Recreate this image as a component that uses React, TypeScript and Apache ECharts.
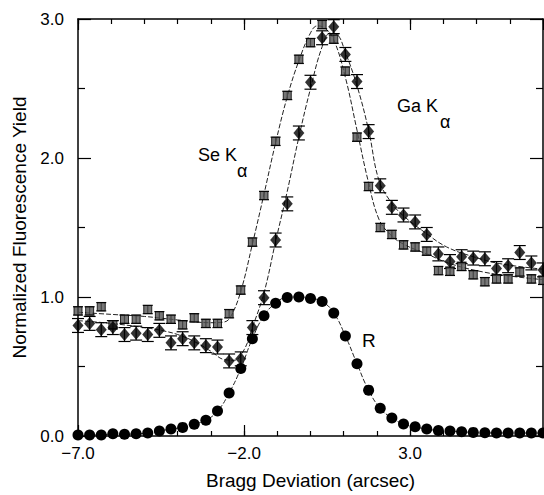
import React, { useEffect, useRef } from "react";
import * as echarts from "echarts";

// Bragg deviation positions of the measured points (arcsec)
const xVals = [
  -7.0, -6.65, -6.3, -5.95, -5.6, -5.25, -4.9, -4.55, -4.2, -3.85, -3.5, -3.15, -2.8, -2.45,
  -2.1, -1.75, -1.4, -1.05, -0.7, -0.35, 0.0, 0.35, 0.7, 1.05, 1.4, 1.75, 2.1, 2.45, 2.8,
  3.15, 3.5, 3.85, 4.2, 4.55, 4.9, 5.25, 5.6, 5.95, 6.3, 6.65, 7.0,
];

// Se K-alpha fluorescence yield
const seVals = [
  0.9, 0.9, 0.93, 0.8, 0.84, 0.84, 0.91, 0.865, 0.84, 0.8, 0.85, 0.81, 0.81, 0.88, 1.05,
  1.395, 1.73, 2.12, 2.45, 2.71, 2.83, 2.96, 2.855, 2.625, 2.15, 1.795, 1.5, 1.45, 1.375,
  1.36, 1.33, 1.19, 1.185, 1.22, 1.16, 1.11, 1.13, 1.13, 1.18, 1.13, 1.12,
];

// Ga K-alpha fluorescence yield
const gaVals = [
  0.795, 0.81, 0.765, 0.78, 0.73, 0.74, 0.73, 0.76, 0.67, 0.7, 0.67, 0.65, 0.64, 0.54, 0.555,
  0.78, 0.995, 1.41, 1.67, 2.18, 2.545, 2.865, 2.945, 2.745, 2.55, 2.19, 1.8, 1.645, 1.59,
  1.54, 1.45, 1.31, 1.255, 1.29, 1.28, 1.275, 1.205, 1.225, 1.32, 1.245, 1.195,
];

// Reflectivity R
const rVals = [
  0.007, 0.007, 0.007, 0.016, 0.012, 0.016, 0.021, 0.036, 0.05, 0.062, 0.085, 0.114, 0.18,
  0.31, 0.485, 0.7, 0.865, 0.955, 0.997, 1.0, 0.99, 0.967, 0.884, 0.72, 0.52, 0.33, 0.2, 0.13,
  0.087, 0.066, 0.05, 0.04, 0.036, 0.03, 0.026, 0.023, 0.022, 0.022, 0.022, 0.021, 0.022,
];

const seErr = 0.03;
const gaErr = 0.05;

// Fitted curves (theory)
const seFitX = [
  -7, -6, -5, -4, -3, -2.6, -2.4, -2.1, -1.75, -1.4, -1.05, -0.7, -0.35, 0, 0.2, 0.4, 0.7,
  1.05, 1.4, 1.74, 2.06, 2.4, 2.8, 3.5, 4.2, 5.2, 6.2, 7,
];
const seFitY = [
  0.89, 0.875, 0.86, 0.835, 0.815, 0.82, 0.86, 1.04, 1.38, 1.74, 2.11, 2.44, 2.7, 2.9, 2.95,
  2.94, 2.85, 2.58, 2.2, 1.83, 1.56, 1.45, 1.38, 1.31, 1.24, 1.18, 1.145, 1.125,
];
const gaFitX = [
  -7, -6, -5, -4.5, -4, -3.5, -3, -2.6, -2.3, -2.0, -1.75, -1.4, -1.05, -0.7, -0.35, 0, 0.35,
  0.6, 0.8, 1.05, 1.4, 1.75, 2.06, 2.43, 2.77, 3.47, 4.1, 4.9, 5.7, 7,
];
const gaFitY = [
  0.83, 0.81, 0.78, 0.76, 0.73, 0.68, 0.61, 0.55, 0.545, 0.62, 0.78, 1.03, 1.4, 1.76, 2.15,
  2.5, 2.8, 2.9, 2.89, 2.76, 2.52, 2.2, 1.84, 1.68, 1.59, 1.46, 1.36, 1.29, 1.24, 1.2,
];

const FONT = '"Liberation Sans", Arial, Helvetica, sans-serif';

function fmt(v: number) {
  return v < 0 ? "\u2212" + Math.abs(v).toFixed(1) : v.toFixed(1);
}

function errorBarSeries(vals: number[], err: number, capHalf: number) {
  return {
    type: "custom",
    xAxisIndex: 0,
    yAxisIndex: 0,
    encode: { x: 0, y: 1 },
    z: 3,
    silent: true,
    data: xVals.map((x, i) => [x, vals[i], err]),
    renderItem: (_params: any, api: any) => {
      const x = api.value(0);
      const y = api.value(1);
      const e = api.value(2);
      const hi = api.coord([x, y + e]);
      const lo = api.coord([x, y - e]);
      const style = { stroke: "#000", lineWidth: 1.2 };
      return {
        type: "group",
        children: [
          { type: "line", shape: { x1: hi[0], y1: hi[1], x2: lo[0], y2: lo[1] }, style },
          { type: "line", shape: { x1: hi[0] - capHalf, y1: hi[1], x2: hi[0] + capHalf, y2: hi[1] }, style },
          { type: "line", shape: { x1: lo[0] - capHalf, y1: lo[1], x2: lo[0] + capHalf, y2: lo[1] }, style },
        ],
      };
    },
  };
}

export default function App() {
  const ref = useRef<HTMLDivElement>(null);

  useEffect(() => {
    if (!ref.current) return;
    const chart = echarts.init(ref.current, undefined, { renderer: "svg" });
    const axisLine = { show: true, onZero: false, lineStyle: { color: "#000", width: 1.5 } };
    const noLine = { show: false, onZero: false };
    const tickStyle = { color: "#000", width: 1.2 };
    const fitLine = { color: "#222", width: 1, type: [5, 2] as any };

    chart.setOption({
      animation: false,
      backgroundColor: "#fff",
      grid: { left: 78, top: 19, width: 465, height: 422 },
      xAxis: [
        {
          type: "value",
          position: "bottom",
          min: -7,
          max: 7,
          interval: 5,
          axisLine,
          axisTick: { show: true, inside: true, length: 11, lineStyle: tickStyle },
          axisLabel: {
            formatter: fmt,
            showMaxLabel: false,
            fontSize: 17,
            color: "#000",
            fontFamily: FONT,
            margin: 9,
          },
          splitLine: { show: false },
          name: "Bragg Deviation (arcsec)",
          nameLocation: "middle",
          nameGap: 35,
          nameTextStyle: { fontSize: 19, color: "#000", fontFamily: FONT },
        },
        {
          type: "value",
          position: "bottom",
          min: -7,
          max: 7,
          interval: 1,
          axisLine: noLine,
          axisTick: { show: true, inside: true, length: 5, lineStyle: tickStyle },
          axisLabel: { show: false },
          splitLine: { show: false },
        },
        {
          type: "value",
          position: "top",
          min: -7,
          max: 7,
          interval: 5,
          axisLine,
          axisTick: { show: true, inside: true, length: 11, lineStyle: tickStyle },
          axisLabel: { show: false },
          splitLine: { show: false },
        },
        {
          type: "value",
          position: "top",
          min: -7,
          max: 7,
          interval: 1,
          axisLine: noLine,
          axisTick: { show: true, inside: true, length: 5, lineStyle: tickStyle },
          axisLabel: { show: false },
          splitLine: { show: false },
        },
      ],
      yAxis: [
        {
          type: "value",
          position: "left",
          min: 0,
          max: 3,
          interval: 1,
          axisLine,
          axisTick: { show: true, inside: true, length: 13, lineStyle: tickStyle },
          minorTick: { show: true, splitNumber: 2, length: 7, lineStyle: tickStyle },
          axisLabel: { formatter: fmt, fontSize: 17, color: "#000", fontFamily: FONT, margin: 14 },
          splitLine: { show: false },
          name: "Normalized Fluorescence Yield",
          nameLocation: "middle",
          nameGap: 49,
          nameTextStyle: { fontSize: 19, color: "#000", fontFamily: FONT },
        },
        {
          type: "value",
          position: "right",
          min: 0,
          max: 3,
          interval: 1,
          axisLine,
          axisTick: { show: true, inside: true, length: 13, lineStyle: tickStyle },
          minorTick: { show: true, splitNumber: 2, length: 7, lineStyle: tickStyle },
          axisLabel: { show: false },
          splitLine: { show: false },
        },
      ],
      graphic: [
        { type: "text", x: 198, y: 155, style: { text: "Se K", fontSize: 18, fontFamily: FONT, fill: "#000", verticalAlign: "middle" } },
        { type: "text", x: 237, y: 171, style: { text: "\u03b1", fontSize: 18, fontFamily: FONT, fill: "#000", verticalAlign: "middle" } },
        { type: "text", x: 397, y: 106, style: { text: "Ga K", fontSize: 18, fontFamily: FONT, fill: "#000", verticalAlign: "middle" } },
        { type: "text", x: 440, y: 122, style: { text: "\u03b1", fontSize: 18, fontFamily: FONT, fill: "#000", verticalAlign: "middle" } },
        { type: "text", x: 362, y: 340, style: { text: "R", fontSize: 19, fontFamily: FONT, fill: "#000", verticalAlign: "middle" } },
      ],
      series: [
        {
          name: "Se fit",
          type: "line",
          xAxisIndex: 0,
          yAxisIndex: 0,
          data: seFitX.map((x, i) => [x, seFitY[i]]),
          smooth: 0.4,
          showSymbol: false,
          lineStyle: fitLine,
          z: 1,
        },
        {
          name: "Ga fit",
          type: "line",
          xAxisIndex: 0,
          yAxisIndex: 0,
          data: gaFitX.map((x, i) => [x, gaFitY[i]]),
          smooth: 0.4,
          showSymbol: false,
          lineStyle: fitLine,
          z: 1,
        },
        {
          name: "R",
          type: "line",
          xAxisIndex: 0,
          yAxisIndex: 0,
          data: xVals.map((x, i) => [x, rVals[i]]),
          smooth: true,
          symbol: "circle",
          symbolSize: 11,
          showAllSymbol: true,
          itemStyle: { color: "#000" },
          lineStyle: fitLine,
          z: 4,
        },
        errorBarSeries(seVals, seErr, 5),
        errorBarSeries(gaVals, gaErr, 6),
        {
          name: "Se K\u03b1",
          type: "scatter",
          xAxisIndex: 0,
          yAxisIndex: 0,
          data: xVals.map((x, i) => [x, seVals[i]]),
          symbol: "rect",
          symbolSize: 8,
          itemStyle: { color: "#555", borderColor: "#000", borderWidth: 1 },
          z: 5,
        },
        {
          name: "Ga K\u03b1",
          type: "scatter",
          xAxisIndex: 0,
          yAxisIndex: 0,
          data: xVals.map((x, i) => [x, gaVals[i]]),
          symbol: "diamond",
          symbolSize: [11, 13],
          itemStyle: { color: "#000" },
          z: 5,
        },
      ],
    });

    return () => chart.dispose();
  }, []);

  return (
    <div
      ref={ref}
      style={{ position: "absolute", left: 0, top: 0, width: 544, height: 495, background: "#fff" }}
    />
  );
}
